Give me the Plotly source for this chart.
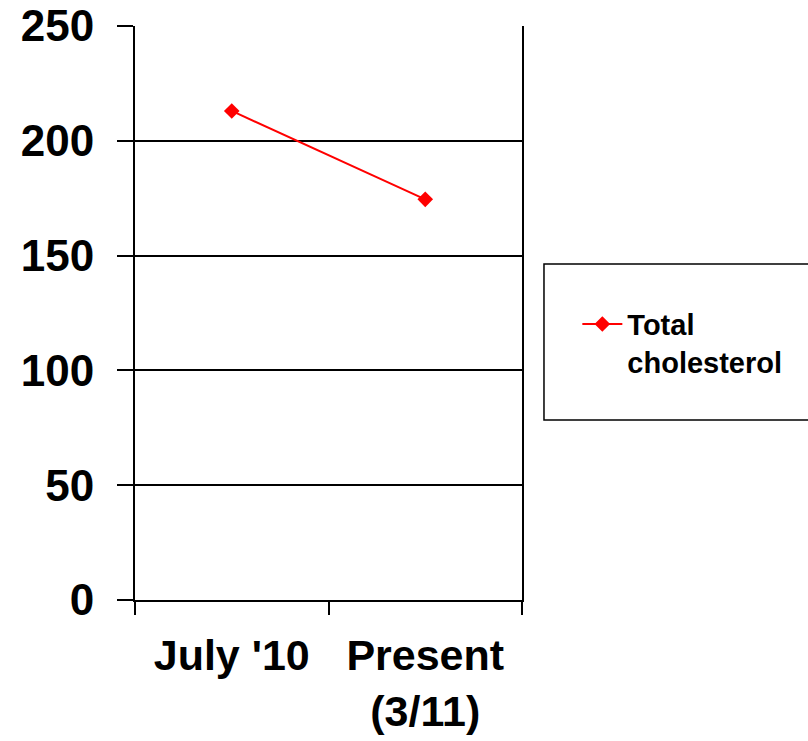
import plotly.graph_objects as go

categories = ["July '10", "Present<br>(3/11)"]
values = [213, 174.5]
series_name = "Total<br>cholesterol"
y_ticks = [0, 50, 100, 150, 200, 250]

FONT = "Liberation Sans, Arial, sans-serif"

fig = go.Figure()
fig.add_trace(go.Scatter(
    x=categories, y=values, name=series_name, mode="lines+markers",
    line=dict(color="#ff0000", width=2),
    marker=dict(symbol="diamond", size=12, color="#ff0000"),
))

fig.update_layout(
    width=808, height=741,
    margin=dict(l=135, r=286, t=26, b=141, autoexpand=False),
    plot_bgcolor="white", paper_bgcolor="white",
    font=dict(family=FONT, color="black", weight="bold"),
    showlegend=True,
    legend=dict(
        x=1.143, xanchor="left", y=0.525, yanchor="top",
        font=dict(family=FONT, size=29, color="black", weight="bold"),
        bgcolor="rgba(0,0,0,0)", borderwidth=0, valign="top",
        itemwidth=40,
    ),
    shapes=[dict(
        type="rect", xref="paper", yref="paper",
        x0=1.0568, x1=1.76, y0=0.3136, y1=0.5854,
        line=dict(color="black", width=1.5), fillcolor="rgba(0,0,0,0)",
        layer="below",
    )],
)

fig.update_xaxes(
    type="category", range=[-0.5, 1.5], tickson="boundaries",
    ticks="outside", ticklen=13, tickwidth=2, tickcolor="black",
    showline=True, linecolor="black", linewidth=2,
    showgrid=False, zeroline=False,
    tickfont=dict(family=FONT, size=43, color="black", weight="bold"),
    ticklabelstandoff=16,
)
fig.update_yaxes(
    range=[0, 250], tickvals=y_ticks, ticktext=[str(v) for v in y_ticks],
    ticks="outside", ticklen=16, tickwidth=2, tickcolor="black",
    showline=True, linecolor="black", linewidth=2, mirror=True,
    showgrid=True, gridcolor="black", gridwidth=1.5, zeroline=False,
    tickfont=dict(family=FONT, size=44, color="black", weight="bold"),
    ticklabelstandoff=14,
)

fig.write_html("out.html")
